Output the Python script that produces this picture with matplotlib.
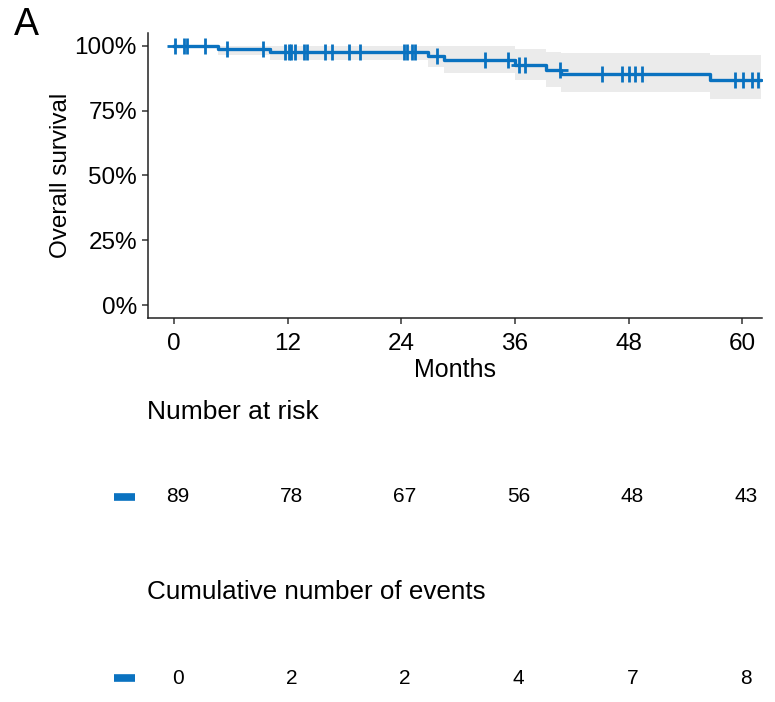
import numpy as np
import matplotlib
matplotlib.use('Agg')
import matplotlib.pyplot as plt
from matplotlib import transforms
from matplotlib.lines import Line2D

plt.rcParams['font.family'] = ['Liberation Sans', 'DejaVu Sans']

# Kaplan-Meier steps (months, % survival) and 95% CI
EVENT_TIMES = [0, 4.6, 10.1, 26.8, 28.5, 36.0, 39.3, 40.9, 56.6]
SURV = [100, 98.9, 97.7, 96.3, 94.7, 92.8, 90.8, 89.0, 86.9]
LOWER = [100, 96.7, 94.4, 91.9, 89.5, 86.7, 84.2, 82.2, 79.6]
UPPER = [100, 100, 100, 100, 99.8, 98.9, 97.8, 97.2, 96.6]
END_TIME = 62.0

CENSOR_TIMES = [0.1, 1.0, 1.4, 3.3, 5.6, 9.4, 11.7, 12.1, 12.4, 12.8, 13.7, 14.0,
                15.9, 16.7, 18.5, 19.6, 24.3, 24.6, 25.1, 25.4, 27.8, 32.8, 35.3,
                36.4, 37.1, 40.8, 45.2, 47.3, 48.0, 48.7, 49.4, 59.3, 60.1, 61.0, 61.7]

TABLE_TIMES = [0, 12, 24, 36, 48, 60]
AT_RISK = [89, 78, 67, 56, 48, 43]
CUM_EVENTS = [0, 2, 2, 4, 7, 8]

LINE_COLOR = '#0a72c0'
BAND_COLOR = '#ebebeb'

fig = plt.figure(figsize=(7.75, 7.02), dpi=100)
ax = fig.add_axes([148 / 775, 1 - 318 / 702, (762 - 148) / 775, (318 - 33) / 702])

x = EVENT_TIMES + [END_TIME]
ax.fill_between(x, LOWER + [LOWER[-1]], UPPER + [UPPER[-1]], step='post',
                color=BAND_COLOR, lw=0, zorder=1)
ax.step(x, SURV + [SURV[-1]], where='post', color=LINE_COLOR, lw=2.4, zorder=3)

idx = np.searchsorted(EVENT_TIMES, CENSOR_TIMES, side='right') - 1
cens_y = np.array(SURV)[idx]
ax.plot(CENSOR_TIMES, cens_y, ls='none', marker='+', ms=11, mew=2,
        color=LINE_COLOR, zorder=4)

ax.set_xlim(-2.75, 62.1)
ax.set_ylim(-5, 105)
ax.set_xticks(TABLE_TIMES)
ax.set_yticks([0, 25, 50, 75, 100])
ax.set_yticklabels(['0%', '25%', '50%', '75%', '100%'])
for s in ['top', 'right']:
    ax.spines[s].set_visible(False)
for s in ['left', 'bottom']:
    ax.spines[s].set_color('#222222')
    ax.spines[s].set_linewidth(1.1)
ax.tick_params(labelsize=17.5, length=4, width=1.1, color='#333333', pad=4)
ax.tick_params(axis='x', pad=7)
ax.set_xlabel('Months', fontsize=18, labelpad=2)
ax.set_ylabel('Overall survival', fontsize=17.5, labelpad=2)

fig.text(14 / 775, 1 - 25 / 702, 'A', fontsize=27, va='center', ha='left')

# risk tables below the plot
trans = transforms.blended_transform_factory(ax.transData, fig.transFigure)
fig.text(147 / 775, 1 - 412 / 702, 'Number at risk', fontsize=19, va='center')
for t, n in zip(TABLE_TIMES, AT_RISK):
    ax.text(t + 0.4, 1 - 497 / 702, str(n), transform=trans, fontsize=15,
            ha='center', va='center', clip_on=False)
fig.text(147 / 775, 1 - 592 / 702, 'Cumulative number of events', fontsize=18.7,
         va='center')
for t, n in zip(TABLE_TIMES, CUM_EVENTS):
    ax.text(t + 0.4, 1 - 678 / 702, str(n), transform=trans, fontsize=15,
            ha='center', va='center', clip_on=False)

for ypix in [497, 678]:
    fig.add_artist(Line2D([114 / 775, 135 / 775], [1 - ypix / 702] * 2,
                          color=LINE_COLOR, lw=5.5, solid_capstyle='butt'))

fig.savefig('out.png', dpi=100)
